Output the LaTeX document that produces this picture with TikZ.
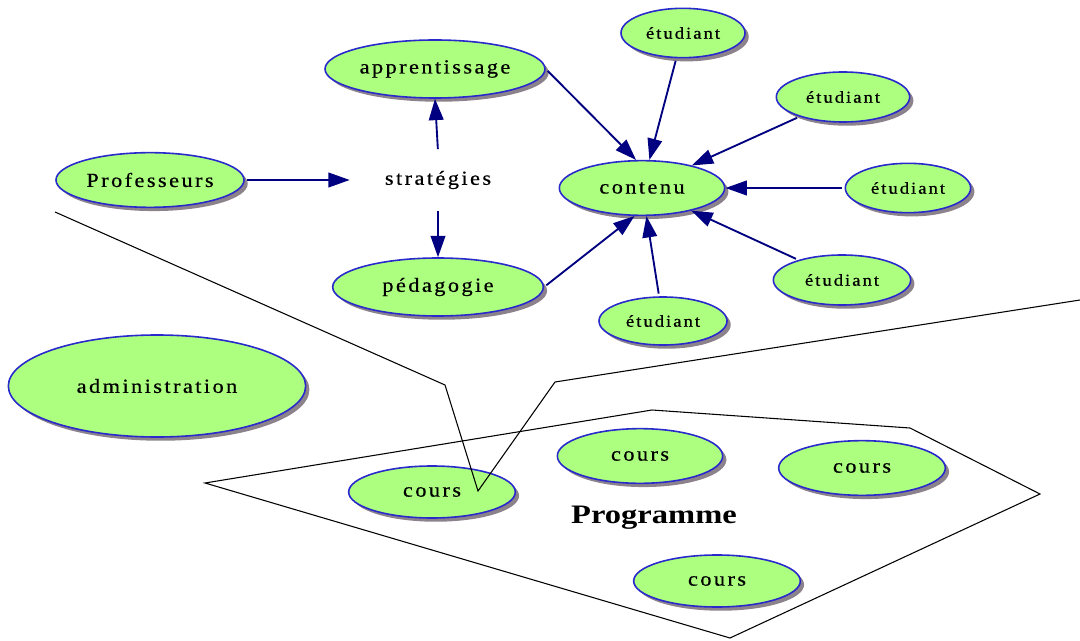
\documentclass[tikz,border=0pt]{standalone}
\usepackage{fontspec}
\setmainfont{Liberation Serif}
\newfontfamily\espace[LetterSpace=12,FakeStretch=1.12,FakeBold=0.5]{Liberation Serif}
\newfontfamily\titre[FakeStretch=1.22]{Liberation Serif}
\usetikzlibrary{arrows.meta,shapes.geometric,shadows}
\definecolor{Vert}{HTML}{ADFF80}
\definecolor{Bord}{HTML}{2A2ACC}
\definecolor{Marine}{HTML}{000080}
\definecolor{Ombre}{HTML}{7E7480}
\tikzset{
  bulle/.style={ellipse,draw=Bord,fill=Vert,line width=1.2pt,inner sep=0pt,text=black,
    font=\espace\fontsize{15}{17}\selectfont,
    drop shadow={shadow xshift=2.8pt,shadow yshift=-2.8pt,fill=Ombre,opacity=.9}},
  petite/.style={font=\espace\fontsize{12.5}{14}\selectfont},
  fleche/.style={draw=Marine,line width=1.4pt,-{Triangle[length=16pt,width=11pt]},shorten <=2pt},
  cadre/.style={draw=black,line width=.8pt,line join=miter},
}

\begin{document}
\begin{tikzpicture}[x=0.75pt,y=-0.75pt]
\path[use as bounding box] (0,0) rectangle (1080,641);

% le programme
\draw[cadre] (205,483) -- (652,410) -- (910,428) -- (1040,494) -- (730,638) -- cycle;
\coordinate (bras1) at (55,212);
\coordinate (coude1) at (445,385);
\coordinate (pointe) at (478,491);
\coordinate (coude2) at (555,382);
\coordinate (bras2) at (1080,300);

\node[bulle,minimum width=165pt,minimum height=43.5pt] (apprentissage) at (435,69) {apprentissage};
\node[bulle,petite,minimum width=93pt,minimum height=37pt] (etud1) at (683,33) {étudiant};
\node[bulle,petite,minimum width=100pt,minimum height=37.5pt] (etud2) at (843,97) {étudiant};
\node[bulle,minimum width=141pt,minimum height=41pt] (profs) at (150,180) {Professeurs};
\node[minimum width=132pt,minimum height=42pt,inner sep=0pt,font=\espace\fontsize{15}{17}\selectfont] (strat) at (438,180) {stratégies};
\node[bulle,minimum width=124pt,minimum height=41pt] (contenu) at (642,188) {contenu};
\node[bulle,petite,minimum width=94pt,minimum height=37pt] (etud3) at (908,188) {étudiant};
\node[bulle,minimum width=158pt,minimum height=43.5pt] (pedagogie) at (438,287) {pédagogie};
\node[bulle,petite,minimum width=103pt,minimum height=37.5pt] (etud4) at (842,280) {étudiant};
\node[bulle,petite,minimum width=96pt,minimum height=36pt] (etud5) at (663,321) {étudiant};
\node[bulle,minimum width=223pt,minimum height=76.5pt] (admin) at (157,386) {administration};

\node[bulle,minimum width=125pt,minimum height=39pt] (cours1) at (432,492) {cours};
\node[bulle,minimum width=124pt,minimum height=41pt] (cours2) at (640,456) {cours};
\node[bulle,minimum width=125pt,minimum height=41pt] (cours3) at (862,468) {cours};
\node[bulle,minimum width=125pt,minimum height=39pt] (cours4) at (717,581) {cours};
\node[font=\titre\bfseries\fontsize{20}{23}\selectfont] (programme) at (654,518) {Programme};

\draw[cadre] (bras1) -- (coude1) -- (pointe) -- (coude2) -- (bras2);

\draw[fleche] (profs.east) -- (strat.west);
\draw[fleche] (strat.north) -- (apprentissage.south);
\draw[fleche] (strat.south) -- (pedagogie.north);
\draw[fleche] (apprentissage.east) -- (contenu.102);
\draw[fleche] (etud1) -- (contenu);
\draw[fleche] (etud2) -- (contenu);
\draw[fleche] (etud3) -- (contenu);
\draw[fleche] (etud4) -- (contenu);
\draw[fleche] (etud5) -- (contenu);
\draw[fleche] (pedagogie.east) -- (contenu.255);
\end{tikzpicture}
\end{document}
